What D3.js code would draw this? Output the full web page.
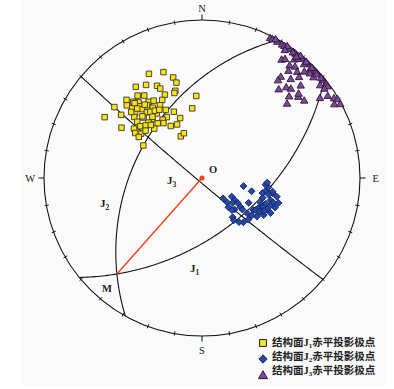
<!DOCTYPE html>
<html>
<head>
<meta charset="utf-8">
<script src="https://cdn.jsdelivr.net/npm/d3@7"></script>
<style>
  html, body { margin: 0; padding: 0; background: #ffffff; }
  svg { display: block; }
</style>
</head>
<body>
<div id="chart"></div>
<script>
// 结构面极点 [倾向(trend), 倾角(plunge)]，下半球赤平投影（等角）
const j1Poles = [
  [333,17],[340,19],[344,23],[345,26],[329,21],[324,19],[334,24],[335,26],[343,30],[342,31],
  [336,30],[325,25],[322,23],[356,35],[316,21],[318,24],[320,26],[325,29],[328,30],[333,32],
  [323,30],[330,34],[309,19],[314,23],[315,26],[319,28],[325,33],[332,38],[337,41],[352,42],
  [308,24],[314,29],[319,30],[320,33],[325,37],[330,42],[340,46],[302,18],[312,30],[316,34],
  [320,38],[326,42],[311,33],[316,38],[321,42],[329,48],[335,49],[302,28],[306,34],[310,36],
  [313,38],[316,43],[325,44],[304,36],[306,39],[333,57],[338,56],[303,39],[299,44],[318,25],
  [322,29],[322,34],[325,35],[316,33],[313,27],[328,36],[316,40],[310,40],[317,28],[321,37]
];
const j2Poles = [
  [134,69],[134,65],[122,65],[124,62],[129,62],[125,59],[127,56],[134,58],[128,54],[128,50],
  [122,48],[118,46],[113,46],[108,46],[104,47],[101,45],[98,44],[102,41],[108,41],[109,39],
  [112,37],[117,38],[121,41],[125,44],[127,47],[132,47],[137,48],[142,55],[116,41],[115,44],
  [104,38],[101,41],[108,36],[101,60],[105,54],[137,59],[143,53],[140,50],[118,53],[121,47],
  [96,46],[104,43],[120,44],[112,43],[112,40],[118,42],[138,62],[94,45]
];
const j3Poles = [
  [26,1],[27,1],[29,1],[31,1],[32,1],[33,1.5],[34,1],[36,1],[37,1],[39,1],
  [40,1],[42,1],[43,1],[45,1],[47,1],[48,1],[51,1],[53,1],[54,1],[34,6],
  [35,5],[38,3],[39,2],[38,6],[40,5],[42,2],[45,2],[39,8],[42,6],[44,4],
  [46,3],[48,3],[38,12],[42,10],[44,7],[41,17],[43,14],[45,13],[47,9],[52,3],
  [54,2.5],[47,16],[50,13],[49,12],[49,19],[53,12],[56,6],[57,3],[59,1.5],[60,0.5],
  [62,0.5],[61,2.5],[38,14],[28,0.5],[33,0.5],[39,0.5],[45,1],[50,1],[36,1.2],[42,0.8],
  [33,2.2],[38,1.7],[48,1.4]
];

// 结构面产状：倾向、倾角
const planeNames = ["J1", "J2", "J3"];
const planeDipDirs = [141, 299, 220];
const planeDips = [52, 44, 87];

const cardinalLabels = ["N", "E", "S", "W"];
const legendLabels = ["1", "2", "3"];

const width = 394, height = 389;
const cx = 202, cy = 178, R = 158;
const rad = Math.PI / 180;

const svg = d3.select("#chart").append("svg")
  .attr("width", width)
  .attr("height", height);

// 背景（原图有浅灰底）
svg.append("rect").attr("x", 0).attr("y", 0).attr("width", width).attr("height", height).attr("fill", "#ffffff");
svg.append("rect").attr("x", 21).attr("y", 0).attr("width", 364).attr("height", 385).attr("fill", "#fafafa");

const x = d3.scaleLinear().domain([-1, 1]).range([cx - R, cx + R]);
const y = d3.scaleLinear().domain([-1, 1]).range([cy + R, cy - R]);

// 向量 (E, N, Down) -> 屏幕坐标
function projectVec(v) {
  const k = 1 / (1 + v[2]);
  return [x(v[0] * k), y(v[1] * k)];
}
function lineVec(trend, plunge) {
  const t = trend * rad, p = plunge * rad;
  return [Math.cos(p) * Math.sin(t), Math.cos(p) * Math.cos(t), Math.sin(p)];
}
function cross(a, b) {
  return [a[1] * b[2] - a[2] * b[1], a[2] * b[0] - a[0] * b[2], a[0] * b[1] - a[1] * b[0]];
}
function planeBasis(dd, dip) {
  const s = lineVec(dd - 90, 0);
  const d = lineVec(dd, dip);
  return [s, d];
}

// 基圆
svg.append("circle")
  .attr("cx", x(0)).attr("cy", y(0)).attr("r", x(1) - x(0))
  .attr("fill", "none").attr("stroke", "#111").attr("stroke-width", 1.1);

// 刻度，每10°
const ticks = d3.range(0, 360, 10);
svg.selectAll(".tick")
  .data(ticks)
  .enter()
  .append("line")
  .attr("class", "tick")
  .attr("x1", d => x(Math.sin(d * rad) * (d % 90 === 0 ? 1 : 0.985)))
  .attr("y1", d => y(Math.cos(d * rad) * (d % 90 === 0 ? 1 : 0.985)))
  .attr("x2", d => x(Math.sin(d * rad) * (d % 90 === 0 ? 1.035 : 1.012)))
  .attr("y2", d => y(Math.cos(d * rad) * (d % 90 === 0 ? 1.035 : 1.012)))
  .attr("stroke", "#111")
  .attr("stroke-width", 1);

// 方位字母
svg.selectAll(".cardinal")
  .data(cardinalLabels)
  .enter()
  .append("text")
  .attr("class", "cardinal")
  .attr("x", (d, i) => x(Math.sin(i * 90 * rad) * (i === 1 ? 1.1 : 1.088)))
  .attr("y", (d, i) => y(Math.cos(i * 90 * rad) * (i === 0 ? 1.075 : 1.088)))
  .attr("dy", "0.35em")
  .attr("text-anchor", "middle")
  .attr("font-family", "'Liberation Serif', 'DejaVu Serif', serif")
  .attr("font-size", 10.5)
  .attr("fill", "#222")
  .text(d => d);

// 大圆
const line = d3.line();
const planes = planeNames.map((name, i) => {
  const [s, d] = planeBasis(planeDipDirs[i], planeDips[i]);
  const pts = d3.range(0, 180.5, 1).map(a => {
    const c = Math.cos(a * rad), sn = Math.sin(a * rad);
    return projectVec([c * s[0] + sn * d[0], c * s[1] + sn * d[1], c * s[2] + sn * d[2]]);
  });
  return { name, pts, normal: cross(s, d) };
});

svg.selectAll(".plane")
  .data(planes)
  .enter()
  .append("path")
  .attr("class", "plane")
  .attr("d", d => line(d.pts))
  .attr("fill", "none")
  .attr("stroke", "#111")
  .attr("stroke-width", 1.1);

// J1、J2 交线 M
let m = cross(planes[0].normal, planes[1].normal);
if (m[2] < 0) m = m.map(v => -v);
const mLen = Math.hypot(m[0], m[1], m[2]);
m = m.map(v => v / mLen);
const mPt = projectVec(m);

svg.append("line")
  .attr("x1", x(0)).attr("y1", y(0))
  .attr("x2", mPt[0]).attr("y2", mPt[1])
  .attr("stroke", "#f0461e")
  .attr("stroke-width", 1.5);
svg.append("circle")
  .attr("cx", x(0)).attr("cy", y(0)).attr("r", 2.6)
  .attr("fill", "#f0461e");

// 极点
function drawPoles(data, symbol, size, fill, stroke) {
  svg.append("g")
    .selectAll("path")
    .data(data)
    .enter()
    .append("path")
    .attr("transform", d => {
      const p = projectVec(lineVec(d[0], d[1]));
      return `translate(${p[0]},${p[1]})`;
    })
    .attr("d", d3.symbol(symbol, size))
    .attr("fill", fill)
    .attr("stroke", stroke)
    .attr("stroke-width", 0.9);
}
drawPoles(j1Poles, d3.symbolSquare, 30, "#f7e31a", "#3a3520");
drawPoles(j2Poles, d3.symbolDiamond2, 30, "#2449a8", "#0e1f5c");
drawPoles(j3Poles, d3.symbolTriangle, 24, "#7d4899", "#2c1538");

// 标注
const serif = "'Liberation Serif', 'DejaVu Serif', serif";
function jLabel(px, py, sub) {
  const t = svg.append("text")
    .attr("x", px).attr("y", py)
    .attr("font-family", serif)
    .attr("font-size", 11)
    .attr("font-weight", "bold")
    .attr("fill", "#222");
  t.append("tspan").text("J");
  t.append("tspan").attr("font-size", 7.5).attr("dy", 2.5).text(sub);
}
jLabel(167, 184, "3");
jLabel(100, 207, "2");
jLabel(190, 272, "1");

svg.append("text")
  .attr("x", 209).attr("y", 173)
  .attr("font-family", serif).attr("font-size", 10.5).attr("font-weight", "bold")
  .attr("fill", "#222").text("O");
svg.append("text")
  .attr("x", 102).attr("y", 292)
  .attr("font-family", serif).attr("font-size", 10.5).attr("font-weight", "bold")
  .attr("fill", "#222").text("M");

// 图例
const legendSymbols = [
  { symbol: d3.symbolSquare, size: 48, fill: "#f7e31a", stroke: "#222", dy: 1 },
  { symbol: d3.symbolDiamond2, size: 44, fill: "#2449a8", stroke: "#0e1f5c", dy: 3 },
  { symbol: d3.symbolTriangle, size: 36, fill: "#7d4899", stroke: "#2c1538", dy: 6 }
];
const legendY = [342, 356, 370];
const legend = svg.append("g");
legend.selectAll("path")
  .data(legendSymbols)
  .enter()
  .append("path")
  .attr("transform", (d, i) => `translate(263,${legendY[i] + d.dy})`)
  .attr("d", d => d3.symbol(d.symbol, d.size)())
  .attr("fill", d => d.fill)
  .attr("stroke", d => d.stroke)
  .attr("stroke-width", 1);

legendLabels.forEach((sub, i) => {
  const t = legend.append("text")
    .attr("x", 272).attr("y", legendY[i] + 4)
    .attr("font-family", "'Noto Sans CJK SC', sans-serif")
    .attr("font-size", 10.5)
    .attr("font-weight", "bold")
    .attr("fill", "#222");
  t.append("tspan").text("结构面");
  t.append("tspan").attr("font-family", serif).text("J");
  t.append("tspan").attr("font-family", serif).attr("font-size", 7).attr("dy", 2).text(sub);
  t.append("tspan").attr("dy", -2).text("赤平投影极点");
});
</script>
</body>
</html>
